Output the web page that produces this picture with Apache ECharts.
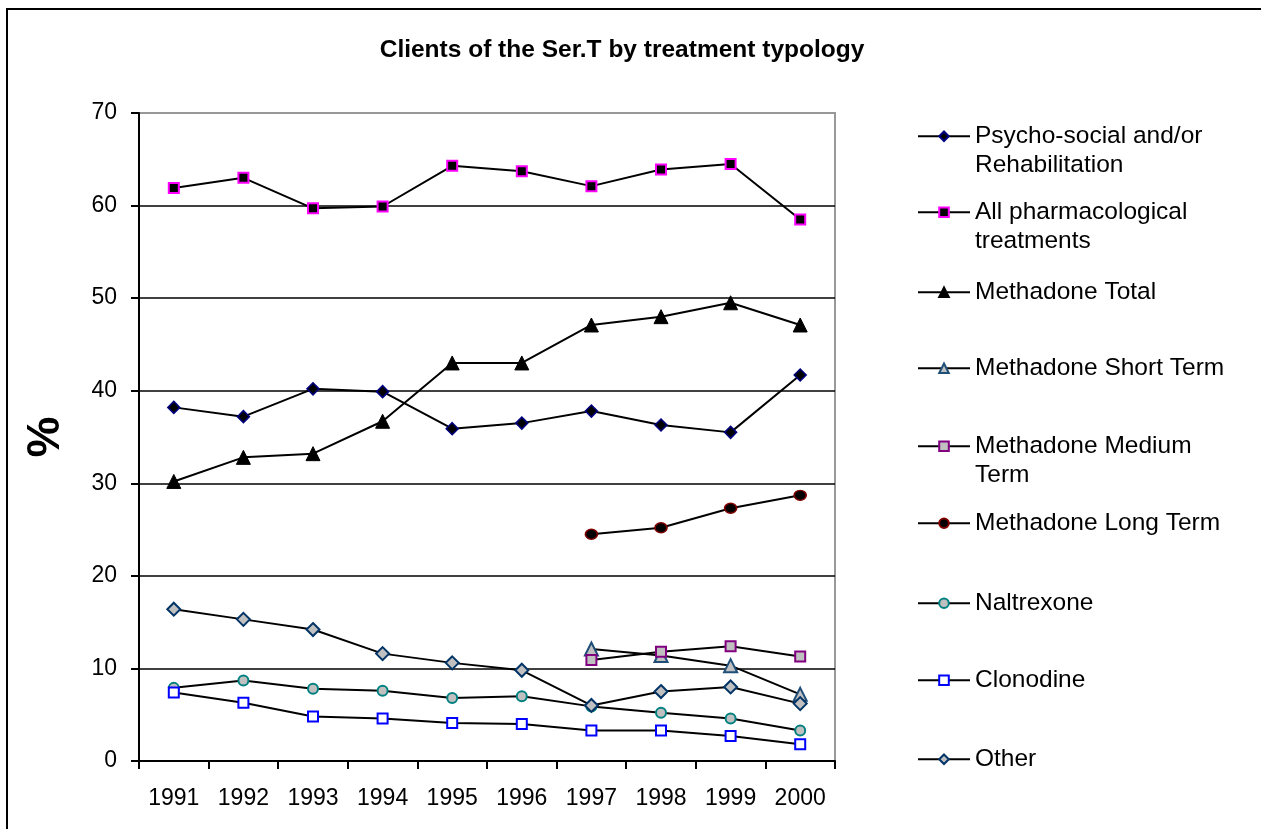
<!DOCTYPE html>
<html>
<head>
<meta charset="utf-8">
<script src="https://cdn.jsdelivr.net/npm/echarts@6/dist/echarts.min.js"></script>
<style>
  html, body { margin: 0; padding: 0; background: #fff; }
  #chart { width: 1261px; height: 829px; }
</style>
</head>
<body>
<div id="chart"></div>
<script>
// Years on the category axis
const years = ['1991', '1992', '1993', '1994', '1995', '1996', '1997', '1998', '1999', '2000'];

// Share of Ser.T clients (%) per treatment type; null = not recorded that year
const psychoSocial   = [38.2, 37.2, 40.2, 39.9, 35.9, 36.5, 37.8, 36.3, 35.5, 41.7];
const pharmaAll      = [61.9, 63.0, 59.7, 59.9, 64.3, 63.7, 62.1, 63.9, 64.5, 58.5];
const methadoneTotal = [30.2, 32.8, 33.2, 36.7, 43.0, 43.0, 47.1, 48.0, 49.5, 47.1];
const methadoneShort = [null, null, null, null, null, null, 12.1, 11.4, 10.3, 7.2];
const methadoneMed   = [null, null, null, null, null, null, 10.9, 11.8, 12.4, 11.3];
const methadoneLong  = [null, null, null, null, null, null, 24.5, 25.2, 27.3, 28.7];
const naltrexone     = [7.9, 8.7, 7.8, 7.6, 6.8, 7.0, 5.9, 5.2, 4.6, 3.3];
const clonodine      = [7.4, 6.3, 4.8, 4.6, 4.1, 4.0, 3.3, 3.3, 2.7, 1.8];
const other          = [16.4, 15.3, 14.2, 11.6, 10.6, 9.8, 6.0, 7.5, 8.0, 6.2];

// Y axis ticks
const yTicks = [0, 10, 20, 30, 40, 50, 60, 70];

const FONT = 'Arial, "Liberation Sans", sans-serif';

const seriesDefs = [
  { name: 'Psycho-social and/or', label2: 'Rehabilitation', data: psychoSocial,
    symbol: 'diamond', size: 12, fill: '#000000', border: '#000080', bw: 1.5, legendY: 136 },
  { name: 'All pharmacological', label2: 'treatments', data: pharmaAll,
    symbol: 'rect', size: 10, fill: '#000000', border: '#ff00ff', bw: 2, legendY: 212 },
  { name: 'Methadone Total', data: methadoneTotal,
    symbol: 'triangle', size: 14, fill: '#000000', border: '#000000', bw: 1, legendY: 292 },
  { name: 'Methadone Short Term', data: methadoneShort,
    symbol: 'triangle', size: 13, fill: '#c0c0c0', border: '#1f4e79', bw: 2, legendY: 368 },
  { name: 'Methadone Medium', label2: 'Term', data: methadoneMed,
    symbol: 'rect', size: 10, fill: '#c0c0c0', border: '#800080', bw: 2, legendY: 446 },
  { name: 'Methadone Long Term', data: methadoneLong,
    symbol: 'circle', size: [12, 10], fill: '#000000', border: '#800000', bw: 1.5, legendY: 523 },
  { name: 'Naltrexone', data: naltrexone,
    symbol: 'circle', size: 10, fill: '#c0c0c0', border: '#008080', bw: 2, legendY: 603 },
  { name: 'Clonodine', data: clonodine,
    symbol: 'rect', size: 10, fill: '#ffffff', border: '#0000ff', bw: 2, legendY: 680 },
  { name: 'Other', data: other,
    symbol: 'diamond', size: 13, fill: '#c0c0c0', border: '#003366', bw: 2, legendY: 759 }
];

const LEGEND_LEFT = 917;
const LEGEND_ICON_W = 52;
const LEGEND_ICON_H = 12;
const LEGEND_FONT = 24.5;

const series = seriesDefs.map(d => ({
  name: d.name,
  type: 'line',
  data: d.data,
  symbol: d.symbol,
  symbolSize: d.size,
  showSymbol: true,
  connectNulls: false,
  lineStyle: { color: '#000000', width: 2 },
  itemStyle: { color: d.fill, borderColor: d.border, borderWidth: d.bw, opacity: 1 },
  emphasis: { disabled: true },
  animation: false
}));

// One legend block per series so each entry sits at its own height
const legends = seriesDefs.map(d => ({
  data: [d.name],
  left: LEGEND_LEFT,
  top: d.legendY - LEGEND_FONT / 2,
  orient: 'vertical',
  padding: 0,
  itemWidth: LEGEND_ICON_W,
  itemHeight: LEGEND_ICON_H,
  selectedMode: false,
  textStyle: { fontFamily: FONT, fontSize: LEGEND_FONT, color: '#000' }
}));

// Second lines of the wrapped legend labels
const legendWraps = seriesDefs.filter(d => d.label2).map(d => ({
  type: 'text',
  left: LEGEND_LEFT + LEGEND_ICON_W + 6,
  top: d.legendY + 29 - LEGEND_FONT / 2,
  style: { text: d.label2, font: LEGEND_FONT + 'px ' + FONT, fill: '#000' }
}));

const chart = echarts.init(document.getElementById('chart'), null, { renderer: 'canvas' });

chart.setOption({
  backgroundColor: '#ffffff',
  animation: false,
  textStyle: { fontFamily: FONT },
  graphic: [
    // outer chart frame
    { type: 'rect', shape: { x: 7, y: 9, width: 1400, height: 1000 },
      style: { fill: 'none', stroke: '#000', lineWidth: 2 }, silent: true, z: 100 },
    { type: 'text', x: 622, y: 50,
      style: { text: 'Clients of the Ser.T by treatment typology', font: 'bold 24.5px ' + FONT,
               fill: '#000', align: 'center', verticalAlign: 'middle' } },
    ...legendWraps
  ],
  legend: legends,
  grid: {
    left: 139, right: 426, top: 113, bottom: 68,
    outerBoundsMode: 'none',
    containLabel: false,
    show: true, borderColor: '#999999', borderWidth: 2, backgroundColor: '#ffffff'
  },
  xAxis: {
    type: 'category',
    data: years,
    boundaryGap: true,
    axisLine: { lineStyle: { color: '#000', width: 2 } },
    axisTick: { show: true, length: 8, lineStyle: { color: '#000', width: 2 } },
    axisLabel: { fontSize: 23, color: '#000', margin: 26, fontFamily: FONT },
    splitLine: { show: false }
  },
  yAxis: {
    type: 'value',
    min: yTicks[0],
    max: yTicks[yTicks.length - 1],
    interval: yTicks[1] - yTicks[0],
    name: '%',
    nameLocation: 'middle',
    nameRotate: 90,
    nameGap: 70,
    nameTextStyle: { fontSize: 46, fontWeight: 'bold', color: '#000', fontFamily: FONT },
    axisLine: { show: true, lineStyle: { color: '#000', width: 2 } },
    axisTick: { show: true, length: 8, lineStyle: { color: '#000', width: 2 } },
    axisLabel: { fontSize: 23, color: '#000', margin: 22, fontFamily: FONT },
    splitLine: { show: true,
      lineStyle: { color: ['#000', '#000', '#000', '#000', '#000', '#000', '#000', '#999'], width: 1.5 } }
  },
  series: series
});
</script>
</body>
</html>
